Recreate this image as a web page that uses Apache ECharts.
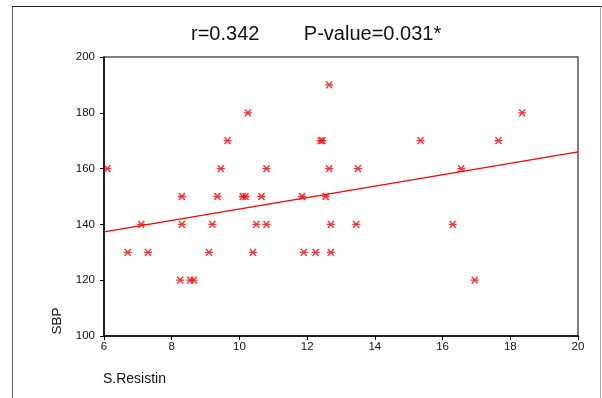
<!DOCTYPE html>
<html>
<head>
<meta charset="utf-8">
<script src="https://cdn.jsdelivr.net/npm/echarts@6/dist/echarts.min.js"></script>
<style>
html,body{margin:0;padding:0;background:#fff;}
#chart{width:602px;height:398px;}
</style>
</head>
<body>
<div id="chart"></div>
<script>
// Data
var resistin = [6.1, 9.45, 10.8, 12.65, 13.5, 16.55,
                8.3, 9.35, 10.1, 10.18, 10.65, 11.85, 12.55,
                9.65, 12.4, 12.45, 15.35, 17.65,
                10.25, 18.35,
                12.65,
                7.1, 8.3, 9.2, 10.5, 10.8, 12.7, 13.45, 16.3,
                6.7, 7.3, 9.1, 10.4, 11.9, 12.25, 12.7,
                8.25, 8.55, 8.65, 16.95];
var sbp = [160, 160, 160, 160, 160, 160,
           150, 150, 150, 150, 150, 150, 150,
           170, 170, 170, 170, 170,
           180, 180,
           190,
           140, 140, 140, 140, 140, 140, 140, 140,
           130, 130, 130, 130, 130, 130, 130,
           120, 120, 120, 120];
var fitIntercept = 125.0;
var fitSlope = 2.05;
var xTicks = [6, 8, 10, 12, 14, 16, 18, 20];
var yTicks = [100, 120, 140, 160, 180, 200];
var titleText = 'r=0.342        P-value=0.031*';
var xName = 'S.Resistin';
var yName = 'SBP';

var points = resistin.map(function (x, i) { return [x, sbp[i]]; });
var xMin = xTicks[0], xMax = xTicks[xTicks.length - 1];
var fitLine = [[xMin, fitIntercept + fitSlope * xMin], [xMax, fitIntercept + fitSlope * xMax]];

var FONT = '"Liberation Sans", Arial, sans-serif';
var chart = echarts.init(document.getElementById('chart'), null, {renderer: 'canvas'});
chart.setOption({
  animation: false,
  backgroundColor: '#fff',
  title: {
    text: titleText,
    left: 186,
    top: 19,
    textStyle: {fontFamily: FONT, fontSize: 20, fontWeight: 'normal', color: '#111'}
  },
  grid: {
    left: 104, right: 24, top: 57, bottom: 62,
    show: true, borderColor: '#555', borderWidth: 1.5, backgroundColor: 'transparent'
  },
  xAxis: {
    type: 'value', min: xMin, max: xMax, interval: 2,
    axisLine: {show: true, onZero: false, lineStyle: {color: '#000', width: 1.5}},
    axisTick: {show: true, length: 4, lineStyle: {color: '#000'}},
    splitLine: {show: false},
    axisLabel: {fontFamily: FONT, fontSize: 11.5, color: '#111', margin: 5}
  },
  yAxis: {
    type: 'value', min: yTicks[0], max: yTicks[yTicks.length - 1], interval: 20,
    axisLine: {show: true, onZero: false, lineStyle: {color: '#000', width: 1.5}},
    axisTick: {show: true, length: 4, lineStyle: {color: '#000'}},
    splitLine: {show: false},
    axisLabel: {fontFamily: FONT, fontSize: 11.5, color: '#111', margin: 9}
  },
  graphic: [
    {type: 'line', shape: {x1: 12.5, y1: 6.5, x2: 12.5, y2: 398}, style: {stroke: '#666', lineWidth: 1}},
    {type: 'line', shape: {x1: 12, y1: 6.5, x2: 602, y2: 6.5}, style: {stroke: '#222', lineWidth: 1.2}},
    {type: 'line', shape: {x1: 600.5, y1: 6.5, x2: 600.5, y2: 398}, style: {stroke: '#aaa', lineWidth: 1}},
    {type: 'text', left: 103, top: 372, style: {text: xName, font: '14px ' + FONT, fill: '#111'}},
    {type: 'text', x: 57, y: 321, rotation: Math.PI / 2,
     style: {text: yName, font: '13.5px ' + FONT, fill: '#111', textAlign: 'center', textVerticalAlign: 'middle'}}
  ],
  series: [
    {
      type: 'line',
      data: fitLine,
      symbol: 'none',
      lineStyle: {color: '#ff0000', width: 1.3},
      z: 2,
      silent: true
    },
    {
      type: 'scatter',
      data: points,
      symbol: 'path://M-4,0L4,0M-3,-3.5L3,3.5M-3,3.5L3,-3.5',
      symbolSize: [8, 7],
      itemStyle: {color: 'rgba(0,0,0,0)', borderColor: '#ff0000', borderWidth: 1.4},
      z: 3
    }
  ]
});
</script>
</body>
</html>
